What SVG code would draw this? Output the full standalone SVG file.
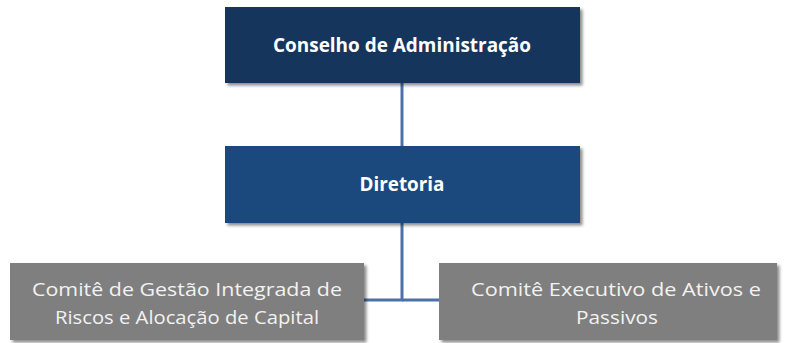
<svg xmlns="http://www.w3.org/2000/svg" width="786" height="343" viewBox="0 0 786 343">
<defs>
<filter id="sh" x="-5%" y="-10%" width="112%" height="125%">
<feDropShadow dx="2.5" dy="2.5" stdDeviation="1.8" flood-color="#000" flood-opacity="0.45"/>
</filter>
<style>
.t{font-family:"Open Sans","Liberation Sans",sans-serif;text-anchor:middle}
.b{font-weight:bold;font-size:19px;fill:#fff}
.n{font-size:19px;fill:#f2f2f2}
.c{fill:none;stroke:#4a72a8;stroke-width:3}
</style>
</defs>
<rect width="786" height="343" fill="#fff"/>
<g id="connectors">
<line class="c" x1="402" y1="83" x2="402" y2="146"/>
<polyline class="c" points="402,222 402,300 364,300"/>
<line class="c" x1="402" y1="300" x2="440" y2="300"/>
</g>
<g id="conselho">
<rect x="225" y="7" width="355" height="76" fill="#17365d" filter="url(#sh)"/>
<text class="t b" x="402" y="52" textLength="258" lengthAdjust="spacingAndGlyphs">Conselho de Administração</text>
</g>
<g id="diretoria">
<rect x="225" y="146" width="355" height="77" fill="#1f497d" filter="url(#sh)"/>
<text class="t b" x="402" y="191" textLength="85" lengthAdjust="spacingAndGlyphs">Diretoria</text>
</g>
<g id="comite-gestao">
<rect x="10" y="263" width="354" height="77" fill="#7f7f7f" filter="url(#sh)"/>
<text class="t n" x="187" y="296" textLength="310" lengthAdjust="spacingAndGlyphs">Comitê de Gestão Integrada de</text>
<text class="t n" x="187" y="324" textLength="264" lengthAdjust="spacingAndGlyphs">Riscos e Alocação de Capital</text>
</g>
<g id="comite-executivo">
<rect x="439" y="263" width="338" height="77" fill="#7f7f7f" filter="url(#sh)"/>
<text class="t n" x="616" y="296" textLength="290" lengthAdjust="spacingAndGlyphs">Comitê Executivo de Ativos e</text>
<text class="t n" x="617" y="324" textLength="82" lengthAdjust="spacingAndGlyphs">Passivos</text>
</g>
</svg>
